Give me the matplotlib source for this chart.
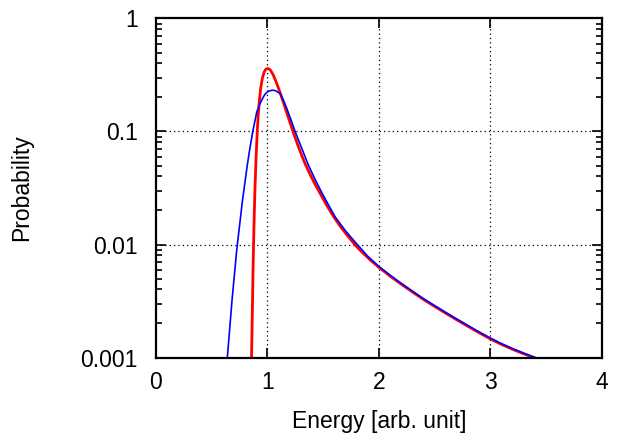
import numpy as np
import matplotlib
matplotlib.use("Agg")
import matplotlib.pyplot as plt
from matplotlib.ticker import LogLocator, FixedLocator, NullFormatter

plt.rcParams["font.family"] = ["Liberation Sans", "DejaVu Sans"]

# --- values (y given as log10 of probability) ---
red_x = [0.857, 0.862, 0.866, 0.870, 0.875, 0.881, 0.888, 0.897, 0.908, 0.916,
         0.925, 0.940, 0.955, 0.970, 0.985, 1.000, 1.015, 1.030, 1.053, 1.075,
         1.098, 1.128, 1.158, 1.188, 1.218, 1.248, 1.278, 1.308, 1.338, 1.380,
         1.420, 1.473, 1.530, 1.592, 1.650, 1.720, 1.787, 1.850, 1.920, 2.000,
         2.100, 2.191, 2.300, 2.400, 2.491, 2.600, 2.700, 2.791, 2.900, 3.000,
         3.100, 3.209, 3.300, 3.389]
red_log10y = [-3.000, -2.720, -2.500, -2.250, -2.000, -1.750, -1.500, -1.250, -1.000, -0.870,
              -0.750, -0.610, -0.525, -0.475, -0.449, -0.442, -0.447, -0.462, -0.502, -0.555,
              -0.615, -0.700, -0.789, -0.879, -0.969, -1.055, -1.137, -1.214, -1.287, -1.375,
              -1.455, -1.550, -1.650, -1.752, -1.835, -1.925, -2.005, -2.070, -2.135, -2.203,
              -2.280, -2.345, -2.420, -2.487, -2.543, -2.609, -2.668, -2.720, -2.782, -2.836,
              -2.885, -2.932, -2.968, -3.000]

blue_x = [0.640, 0.682, 0.724, 0.776, 0.819, 0.837, 0.868, 0.904, 0.930, 0.963,
          0.980, 1.001, 1.020, 1.044, 1.060, 1.077, 1.113, 1.143, 1.173, 1.210,
          1.248, 1.278, 1.308, 1.338, 1.367, 1.430, 1.491, 1.550, 1.607, 1.700,
          1.805, 1.900, 2.000, 2.100, 2.191, 2.300, 2.400, 2.491, 2.600, 2.700,
          2.791, 2.900, 3.000, 3.100, 3.209, 3.300, 3.400]
blue_log10y = [-3.000, -2.493, -2.050, -1.608, -1.298, -1.181, -1.000, -0.827, -0.760, -0.694,
               -0.668, -0.648, -0.640, -0.635, -0.636, -0.642, -0.664, -0.722, -0.796, -0.895,
               -1.000, -1.076, -1.150, -1.226, -1.298, -1.430, -1.549, -1.655, -1.756, -1.880,
               -2.000, -2.105, -2.195, -2.272, -2.338, -2.413, -2.480, -2.536, -2.602, -2.661,
               -2.713, -2.775, -2.829, -2.878, -2.926, -2.962, -3.000]

x_ticks = [0, 1, 2, 3, 4]
y_ticks = [0.001, 0.01, 0.1, 1]
y_labels = ["0.001", "0.01", "0.1", "1"]

red_y = np.power(10.0, red_log10y)
blue_y = np.power(10.0, blue_log10y)

fig = plt.figure(figsize=(6.17, 4.37), dpi=100)
ax = fig.add_axes([0.2528, 0.1819, 0.7229, 0.7758])

ax.plot(red_x, red_y, color="#ff0000", lw=2.0, solid_joinstyle="round")
ax.plot(blue_x, blue_y, color="#0000ff", lw=1.2, solid_joinstyle="round")

ax.set_yscale("log")
ax.set_xlim(0, 4)
ax.set_ylim(0.001, 1)

ax.xaxis.set_major_locator(FixedLocator(x_ticks))
ax.set_xticklabels([str(t) for t in x_ticks])
ax.yaxis.set_major_locator(FixedLocator(y_ticks))
ax.set_yticklabels(y_labels)
ax.yaxis.set_minor_locator(LogLocator(base=10, subs=np.arange(2, 10)))
ax.yaxis.set_minor_formatter(NullFormatter())

ax.tick_params(which="both", direction="in", top=True, right=True, width=1.2,
               labelsize=16.5, colors="black")
ax.tick_params(which="major", length=7.5)
ax.tick_params(which="minor", length=4)
ax.tick_params(axis="y", pad=13)
ax.tick_params(axis="x", pad=10)

for s in ax.spines.values():
    s.set_linewidth(1.6)

# dotted grid at the inner major ticks
for xv in x_ticks[1:-1]:
    ax.axvline(xv, color="black", ls=(0, (1, 2.5)), lw=0.9, zorder=0)
for yv in y_ticks[1:-1]:
    ax.axhline(yv, color="black", ls=(0, (1, 2.5)), lw=0.9, zorder=0)

ax.set_xlabel("Energy [arb. unit]", fontsize=16.5)
ax.set_ylabel("Probability", fontsize=16.5)
ax.xaxis.set_label_coords(0.5, -0.155)
ax.yaxis.set_label_coords(-0.275, 0.5)

plt.savefig("out.png", dpi=100)
print("Saved: out.png")
plt.close()
